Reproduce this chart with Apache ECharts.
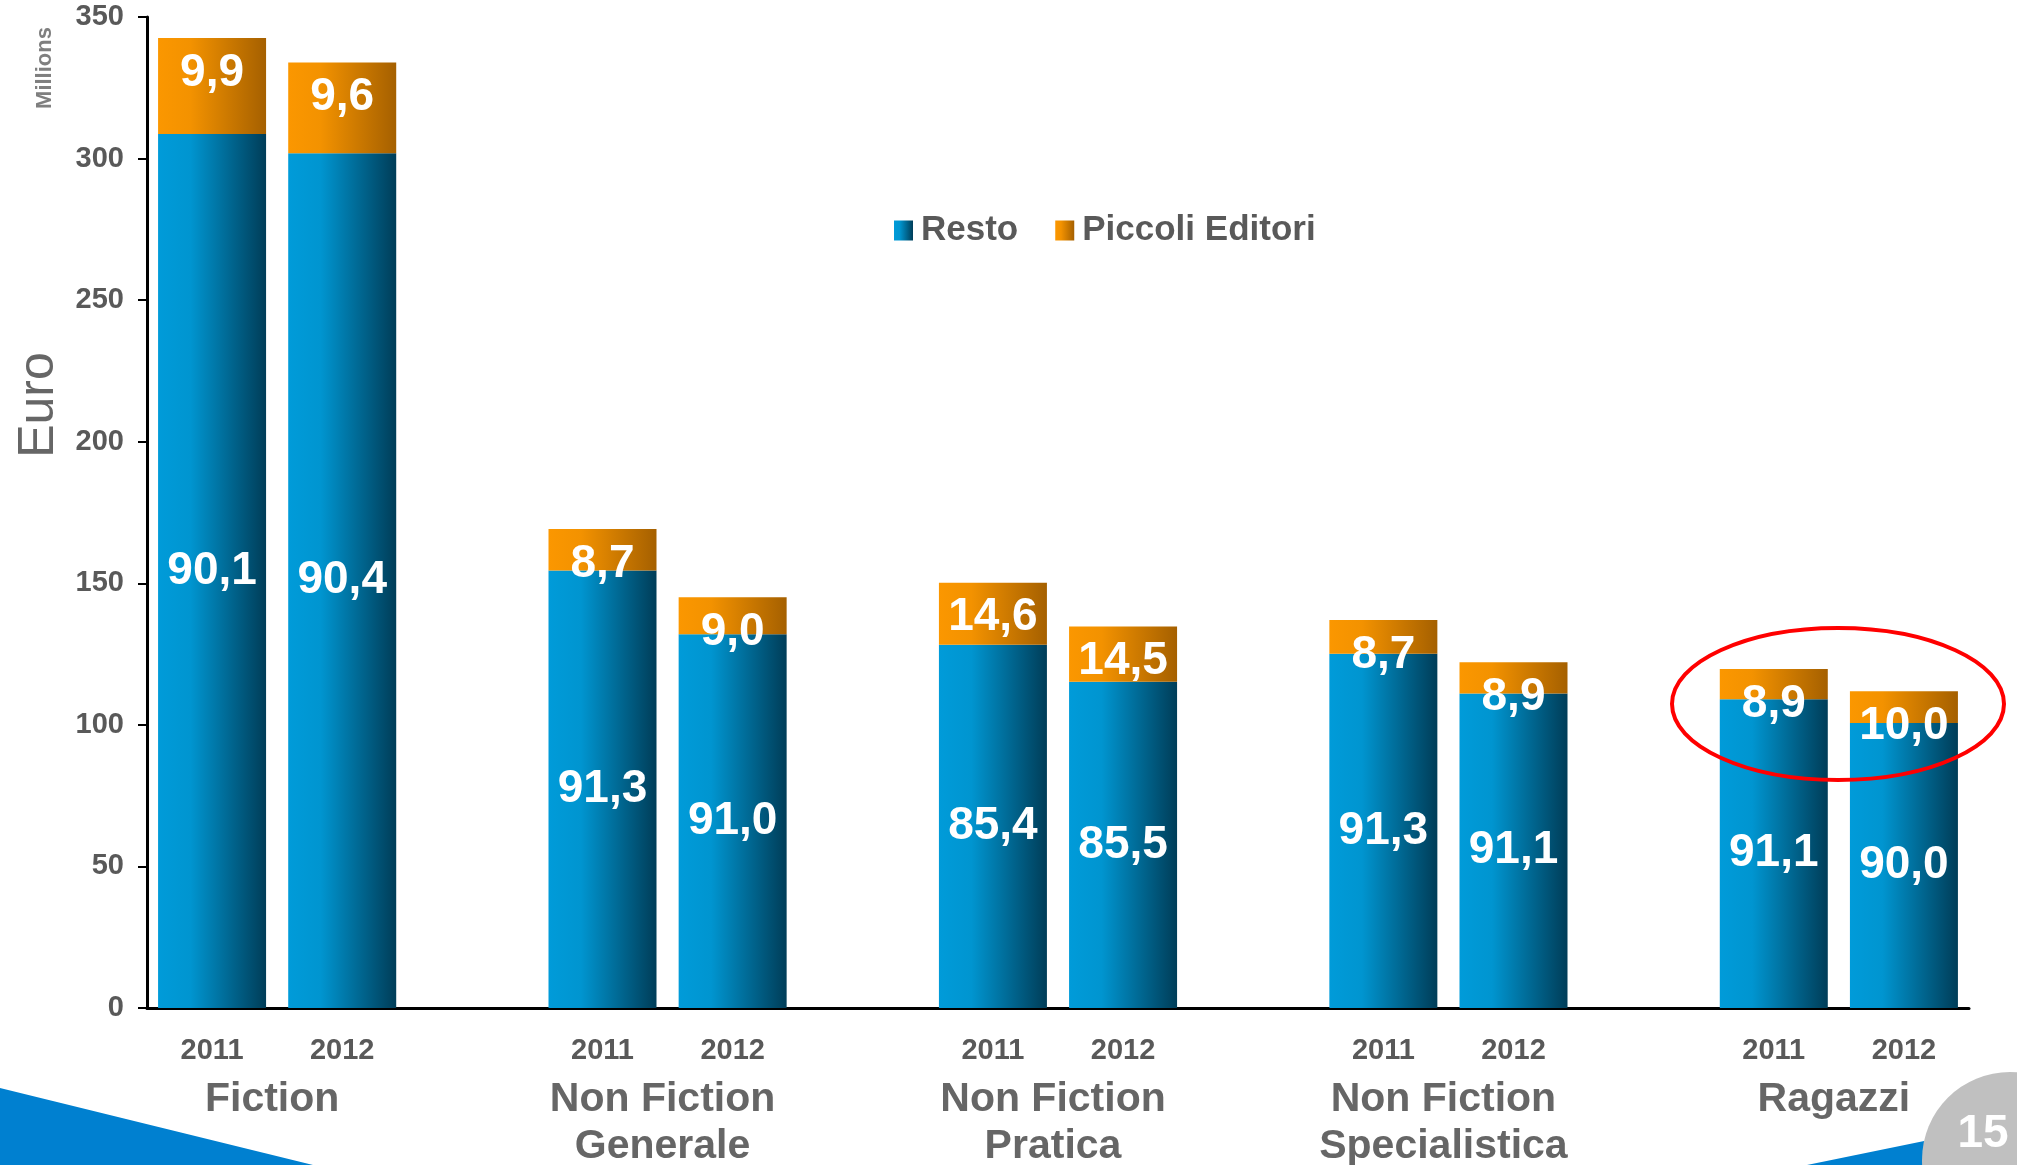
<!DOCTYPE html>
<html>
<head>
<meta charset="utf-8">
<title>Resto / Piccoli Editori</title>
<script src="https://cdn.jsdelivr.net/npm/echarts@6/dist/echarts.min.js"></script>
<style>
  html, body { margin: 0; padding: 0; background: #fff; }
  #chart { width: 2017px; height: 1165px; }
</style>
</head>
<body>
<div id="chart"></div>
<script>
// generi e anni
const groups = ['Fiction', 'Non Fiction\nGenerale', 'Non Fiction\nPratica', 'Non Fiction\nSpecialistica', 'Ragazzi'];
const years = ['2011', '2012'];
// milioni di euro, gruppo per gruppo (2011, 2012)
const restoValues = [308.7, 301.9, 154.5, 132.0, 128.3, 115.2, 125.1, 111.1, 109.0, 100.7];
const piccoliValues = [33.9, 32.0, 14.7, 13.1, 21.9, 19.5, 11.9, 11.0, 10.7, 11.2];
// quote % scritte sulle barre
const restoShare = [90.1, 90.4, 91.3, 91.0, 85.4, 85.5, 91.3, 91.1, 91.1, 90.0];
const piccoliShare = [9.9, 9.6, 8.7, 9.0, 14.6, 14.5, 8.7, 8.9, 8.9, 10.0];
const yTicks = [0, 50, 100, 150, 200, 250, 300, 350];

const FONT = 'Liberation Sans, Arial, sans-serif';

// una colonna vuota tra un gruppo e l'altro
const slotLabels = [];
const slotIdx = [];
groups.forEach((g, gi) => {
  years.forEach((y, yi) => {
    slotLabels.push(y);
    slotIdx.push(gi * years.length + yi);
  });
  if (gi < groups.length - 1) {
    slotLabels.push('');
    slotIdx.push(-1);
  }
});
const pick = arr => slotIdx.map(i => (i < 0 ? '-' : arr[i]));
const fmt = v => v.toFixed(1).replace('.', ',');
const slotsPerGroup = years.length + 1;

const grad = (c0, c1, c2) => new echarts.graphic.LinearGradient(0, 0, 1, 0, [
  { offset: 0, color: c0 },
  { offset: 0.3, color: c1 },
  { offset: 1, color: c2 }
]);

const barLabel = {
  show: true,
  color: '#fff',
  fontFamily: FONT,
  fontWeight: 'bold',
  fontSize: 46,
  textBorderWidth: 0
};

const chart = echarts.init(document.getElementById('chart'));
chart.setOption({
  animation: false,
  backgroundColor: '#fff',
  grid: { left: 147, right: 48, top: 17, bottom: 157, outerBoundsMode: 'none' },
  legend: {
    data: ['Resto', 'Piccoli Editori'],
    left: 889,
    top: 208,
    icon: 'rect',
    itemWidth: 19,
    itemHeight: 20,
    itemGap: 37,
    textStyle: { color: '#595959', fontFamily: FONT, fontWeight: 'bold', fontSize: 35, padding: [0, 0, 0, 3] }
  },
  xAxis: [
    {
      type: 'category',
      position: 'bottom',
      data: slotLabels,
      axisLine: { lineStyle: { color: '#000', width: 3 } },
      axisTick: { show: false },
      axisLabel: { interval: 0, margin: 28, color: '#595959', fontFamily: FONT, fontWeight: 'bold', fontSize: 29 }
    },
    {
      type: 'value',
      position: 'bottom',
      min: 0,
      max: slotLabels.length,
      interval: 1,
      axisLine: { show: false },
      axisTick: { show: false },
      splitLine: { show: false },
      axisLabel: {
        margin: 68,
        padding: [0, 10, 0, 0],
        color: '#666',
        fontFamily: FONT,
        fontWeight: 'bold',
        fontSize: 41,
        lineHeight: 47,
        formatter: v => {
          const gi = (v - 1) / slotsPerGroup;
          return Number.isInteger(gi) && groups[gi] ? groups[gi] : '';
        }
      }
    }
  ],
  yAxis: {
    type: 'value',
    min: yTicks[0],
    max: yTicks[yTicks.length - 1],
    interval: yTicks[1] - yTicks[0],
    axisLine: { show: true, lineStyle: { color: '#000', width: 3 } },
    axisTick: { show: true, length: 9, lineStyle: { color: '#000', width: 2 } },
    splitLine: { show: false },
    axisLabel: { margin: 23, color: '#595959', fontFamily: FONT, fontWeight: 'bold', fontSize: 29 }
  },
  series: [
    {
      name: 'Resto',
      type: 'bar',
      stack: 'tot',
      barWidth: 108,
      data: pick(restoValues),
      itemStyle: { color: grad('#009bd9', '#0095d0', '#003d58') },
      label: Object.assign({}, barLabel, {
        position: 'inside',
        formatter: p => fmt(restoShare[slotIdx[p.dataIndex]])
      })
    },
    {
      name: 'Piccoli Editori',
      type: 'bar',
      stack: 'tot',
      barWidth: 108,
      data: pick(piccoliValues),
      itemStyle: { color: grad('#fb9700', '#f39200', '#a56000') },
      label: Object.assign({}, barLabel, {
        position: 'insideTop',
        distance: 12,
        formatter: p => fmt(piccoliShare[slotIdx[p.dataIndex]])
      })
    }
  ],
  graphic: [
    {
      type: 'text', x: 45, y: 68, rotation: Math.PI / 2,
      style: { text: 'Millions', fill: '#7f7f7f', font: 'bold 22px ' + FONT, align: 'center', verticalAlign: 'middle' }
    },
    {
      type: 'text', x: 39, y: 405, rotation: Math.PI / 2,
      style: { text: 'Euro', fill: '#666', font: '50px ' + FONT, align: 'center', verticalAlign: 'middle' }
    },
    {
      type: 'polygon', z: 1,
      shape: { points: [[0, 1088], [313, 1165], [0, 1165]] },
      style: { fill: '#0080d0' }
    },
    {
      type: 'polygon', z: 1,
      shape: { points: [[1807, 1165], [2017, 1122], [2017, 1165]] },
      style: { fill: '#0080d0' }
    },
    {
      type: 'circle', z: 2,
      shape: { cx: 2010, cy: 1160, r: 88 },
      style: { fill: '#c0c0c0' }
    },
    {
      type: 'text', z: 3, x: 1983, y: 1134,
      style: { text: '15', fill: '#fff', font: 'bold 46px ' + FONT, align: 'center', verticalAlign: 'middle' }
    },
    {
      type: 'ellipse', z: 10,
      shape: { cx: 1838, cy: 704, rx: 166, ry: 76 },
      style: { fill: null, stroke: '#ff0000', lineWidth: 4 }
    }
  ]
});
</script>
</body>
</html>
